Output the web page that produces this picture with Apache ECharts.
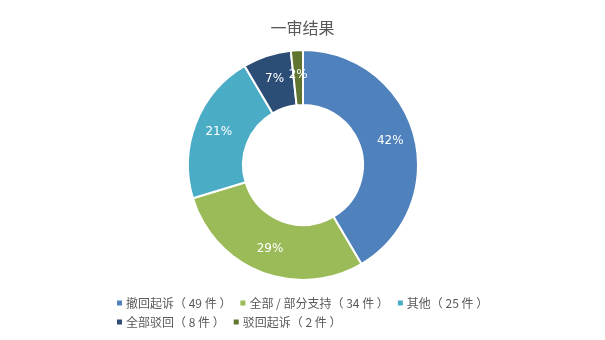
<!DOCTYPE html>
<html>
<head>
<meta charset="utf-8">
<script src="https://cdn.jsdelivr.net/npm/echarts@6/dist/echarts.min.js"></script>
<style>
html,body{margin:0;padding:0;background:#fff;}
#chart{width:605px;height:340px;}
</style>
</head>
<body>
<div id="chart"></div>
<script>
// 一审结果 — case outcome breakdown
const categories = ['撤回起诉', '全部 / 部分支持', '其他', '全部驳回', '驳回起诉'];
const counts = [49, 34, 25, 8, 2];
const colors = ['#4F81BD', '#9BBB59', '#4BACC6', '#2C4D75', '#5F7530'];

const total = counts.reduce((a, b) => a + b, 0);
const seriesData = categories.map((name, i) => ({
  name: name + '（ ' + counts[i] + ' 件 ）',
  value: counts[i],
  itemStyle: { color: colors[i] }
}));

const chart = echarts.init(document.getElementById('chart'), null, { renderer: 'canvas' });
chart.setOption({
  animation: false,
  title: {
    text: '一审结果',
    left: 'center',
    top: 15,
    textStyle: {
      fontFamily: 'Noto Sans CJK SC',
      fontSize: 16,
      fontWeight: 'normal',
      color: '#595959'
    }
  },
  legend: {
    left: 110,
    top: 292,
    width: 400,
    itemWidth: 7,
    itemHeight: 7,
    itemGap: 7,
    icon: 'rect',
    textStyle: {
      fontFamily: 'Noto Sans CJK SC',
      fontSize: 12,
      color: '#595959',
      padding: [0, 0, 0, -2]
    },
    data: seriesData.map(d => d.name)
  },
  series: [{
    type: 'pie',
    center: [303, 165],
    radius: [60, 115],
    startAngle: 90,
    clockwise: true,
    silent: true,
    itemStyle: { borderColor: '#fff', borderWidth: 2 },
    label: {
      show: true,
      position: 'inside',
      color: '#fff',
      fontFamily: 'DejaVu Sans',
      fontSize: 12,
      formatter: p => Math.round(p.value / total * 100) + '%'
    },
    labelLine: { show: false },
    data: seriesData
  }]
});
</script>
</body>
</html>
